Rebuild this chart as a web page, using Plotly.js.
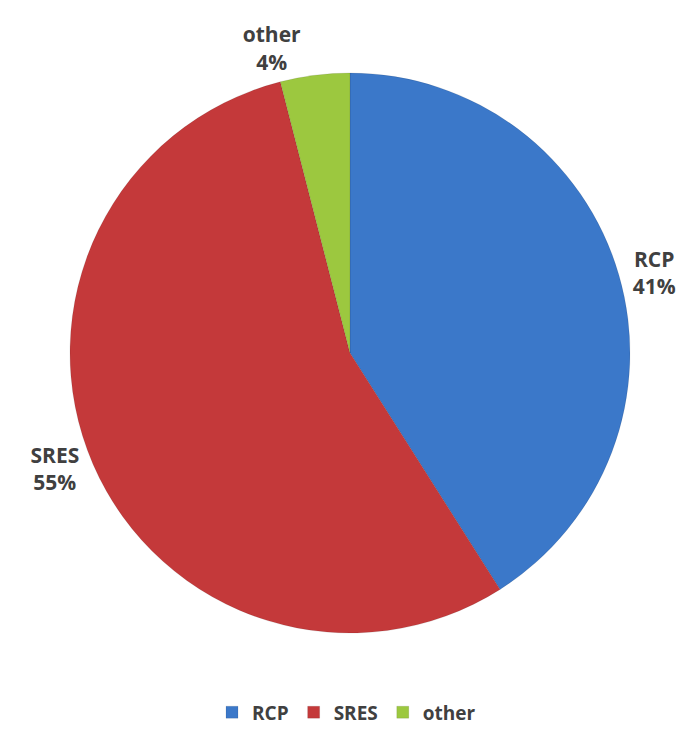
<!DOCTYPE html>
<html>
<head>
<meta charset="utf-8">
<script src="https://cdn.plot.ly/plotly-3.0.1.min.js"></script>
<style>html,body{margin:0;padding:0;background:#fff;}#chart{width:693px;height:735px;}</style>
</head>
<body>
<div id="chart"></div>
<script>
const categories = ["RCP", "SRES", "other"];
const shares = [41, 55, 4];
const colors = ["#3B78C9", "#C4393A", "#9CC83F"];

const trace = {
  type: "pie",
  labels: categories,
  values: shares,
  sort: false,
  direction: "clockwise",
  rotation: 0,
  marker: {colors: colors, line: {color: "rgba(0,0,0,0.12)", width: 0.8}},
  textposition: "outside",
  texttemplate: "<b>%{label}<br>%{percent:.0%}</b>",
  textfont: {family: "Open Sans, Liberation Sans, sans-serif", size: 21, color: "#404040"},
  hoverinfo: "label+percent",
  domain: {x: [70/693, 630/693], y: [102/735, 662/735]}
};

const layout = {
  width: 693,
  height: 735,
  margin: {l: 0, r: 0, t: 0, b: 0},
  paper_bgcolor: "#ffffff",
  showlegend: true,
  legend: {
    orientation: "h",
    x: 0.5, xanchor: "center",
    y: 0.005, yanchor: "bottom",
    font: {family: "Open Sans, Liberation Sans, sans-serif", size: 19, color: "#404040", weight: "bold"},
    itemwidth: 30,
    traceorder: "normal"
  }
};

Plotly.newPlot("chart", [trace], layout, {displayModeBar: false, staticPlot: true});
</script>
</body>
</html>
